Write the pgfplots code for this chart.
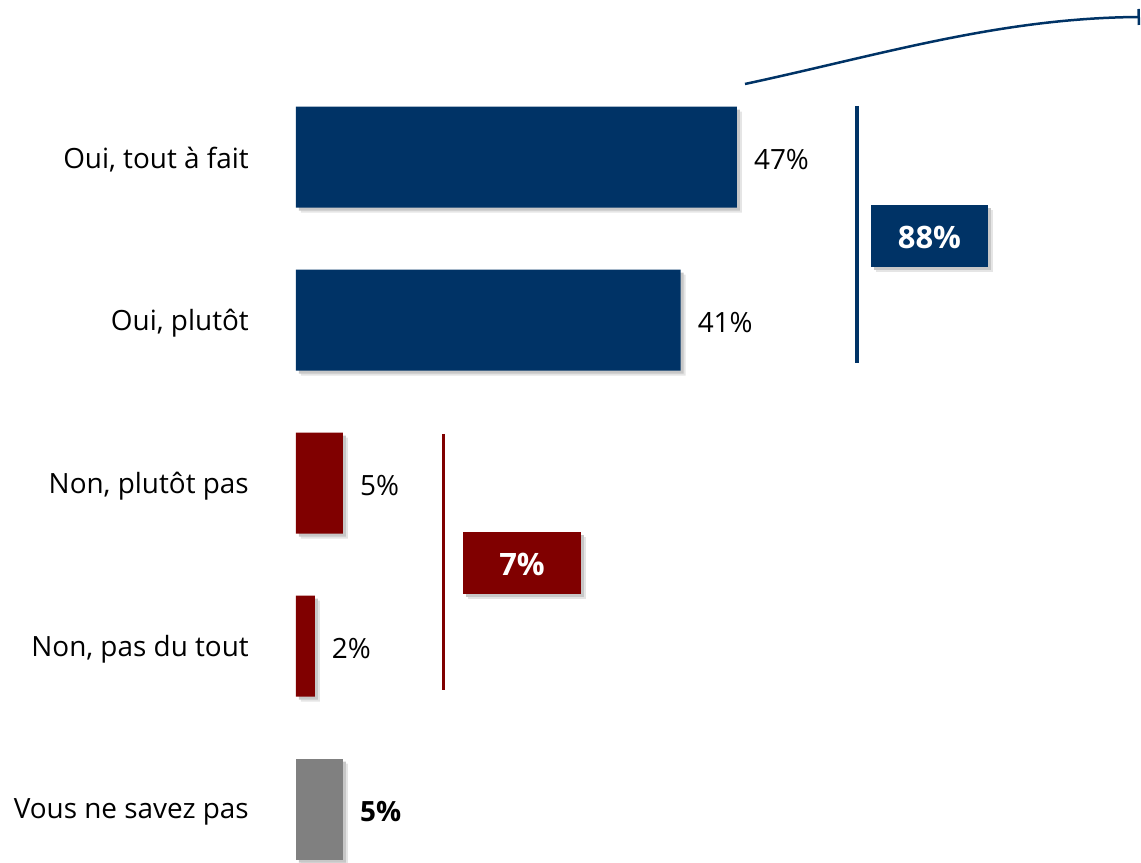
\documentclass[border=0pt]{standalone}
\usepackage{pgfplots}
\pgfplotsset{compat=1.18}
\usepackage{fontspec}
\setmainfont{Open Sans}
\usetikzlibrary{arrows.meta}
\definecolor{navy}{RGB}{0,51,102}
\definecolor{dred}{RGB}{128,0,0}
\definecolor{gr}{RGB}{128,128,128}
\begin{document}
\begin{tikzpicture}
\path[use as bounding box] (-296bp,0) rectangle (845bp,863bp);
\begin{axis}[
  at={(0,0)}, anchor=south west,
  scale only axis, width=845bp, height=863bp,
  xmin=0, xmax=90.085, ymin=-0.9632, ymax=4.3313,
  y dir=reverse,
  /pgf/number format/assume math mode=true,
  axis line style={draw=none},
  xtick=\empty,
  ytick={0,1,2,3,4},
  yticklabels={{Oui, tout à fait},{Oui, plutôt},{Non, plutôt pas},{Non, pas du tout},{Vous ne savez pas}},
  major tick length=0pt,
  tick style={draw=none},
  yticklabel style={font=\fontsize{28}{32}\selectfont, inner sep=0pt, anchor=east, xshift=-47bp, yshift=-3bp},
  xbar, bar width=101bp, bar shift=0pt,
  clip=false,
  vals/.style={
    point meta=x,
    nodes near coords={\pgfmathprintnumber[assume math mode=true]{\pgfplotspointmeta}\%},
    every node near coord/.append style={anchor=west, inner sep=0pt, xshift=17bp, yshift=-3bp, font=\fontsize{28}{32}\selectfont, text=black}
  },
]
\addplot[fill=black!10, draw=none, xshift=5bp, yshift=-5bp, forget plot] coordinates {(47,0) (41,1) (5,2) (2,3) (5,4)};
\addplot[fill=black!22, draw=none, xshift=3bp, yshift=-3bp, forget plot] coordinates {(47,0) (41,1) (5,2) (2,3) (5,4)};
\addplot[fill=navy, draw=none, vals] coordinates {(47,0) (41,1)};
\addplot[fill=dred, draw=none, vals] coordinates {(5,2) (2,3)};
\addplot[fill=gr, draw=none, vals, every node near coord/.append style={font=\bfseries\fontsize{28}{32}\selectfont}] coordinates {(5,4)};
\end{axis}
\begin{scope}[shift={(-296bp,863bp)}, x=1bp, y=-1bp]
  \draw[navy, line width=3.5bp] (857,106) -- (857,363);
  \draw[dred, line width=3bp] (444,434) -- (444,690);
  \fill[black!10] (876,210) rectangle (993,272);
  \fill[black!22] (874,208) rectangle (991,270);
  \fill[navy] (871,205) rectangle (988,267);
  \node[text=white, font=\bfseries\fontsize{31}{34}\selectfont, inner sep=0pt] at (929.5,237) {88\%};
  \fill[black!10] (468,537) rectangle (586,599);
  \fill[black!22] (466,535) rectangle (584,597);
  \fill[dred] (463,532) rectangle (581,594);
  \node[text=white, font=\bfseries\fontsize{31}{34}\selectfont, inner sep=0pt] at (522,564) {7\%};
  \draw[navy, line width=2.5bp, -{Bar[width=16bp]}] (745,84) .. controls (880,55) and (1000,18) .. (1140,17);
\end{scope}
\end{tikzpicture}
\end{document}
